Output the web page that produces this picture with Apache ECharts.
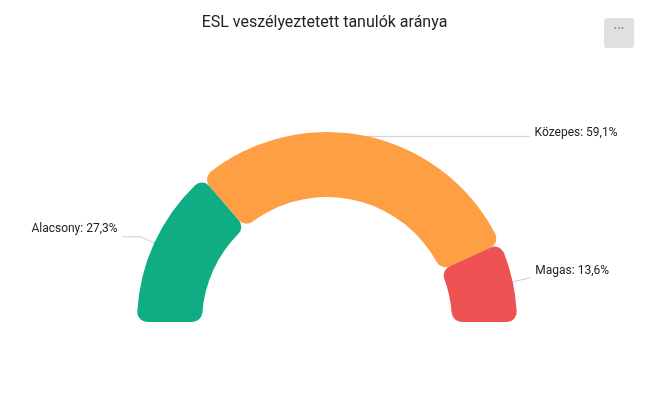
<!DOCTYPE html>
<html>
<head>
<meta charset="utf-8">
<script src="https://cdn.jsdelivr.net/npm/echarts@6/dist/echarts.min.js"></script>
<style>
html,body{margin:0;padding:0;background:#fff;}
#chart{width:649px;height:415px;}
</style>
</head>
<body>
<div id="chart"></div>
<script>
var titleText = 'ESL veszélyeztetett tanulók aránya';
var categories = ['Alacsony', 'Közepes', 'Magas'];
var values = [27.3, 59.1, 13.6];
var colors = ['#10ac84', '#ff9f43', '#ee5253'];

// label line styling per slice (layout only)
var lineLen = [15, 0, 17];
var lineLen2 = [18, 162, 1];
var labelLift = [8, 3, 7];

var chart = echarts.init(document.getElementById('chart'), null, {renderer: 'canvas'});

var data = categories.map(function (c, i) {
  return {
    name: c,
    value: values[i],
    itemStyle: {color: colors[i]},
    labelLine: {length: lineLen[i], length2: lineLen2[i]},
    label: {offset: [0, -labelLift[i]]}
  };
});

chart.setOption({
  animation: false,
  title: {
    text: titleText,
    left: 'center',
    top: 10,
    textStyle: {fontFamily: 'Roboto', fontSize: 16, fontWeight: 'normal', color: '#222'}
  },
  graphic: [{
    type: 'group',
    left: 604,
    top: 18,
    children: [
      {type: 'rect', shape: {x: 0, y: 0, width: 30, height: 30, r: 3}, style: {fill: '#e0e0e0'}},
      {type: 'text', x: 15, y: 12, style: {text: '···', fill: '#888', font: 'bold 12px Roboto', align: 'center', verticalAlign: 'middle'}}
    ]
  }],
  series: [{
    type: 'pie',
    center: [327, 322],
    radius: [125, 190],
    startAngle: 180,
    endAngle: 0,
    clockwise: true,
    avoidLabelOverlap: false,
    itemStyle: {borderRadius: 10},
    label: {
      show: true,
      fontFamily: 'Roboto',
      fontSize: 12,
      color: '#222',
      distanceToLabelLine: 5,
      formatter: function (p) {
        return p.name + ': ' + p.value.toFixed(1).replace('.', ',') + '%';
      }
    },
    labelLine: {show: true, lineStyle: {color: '#ccc', width: 1}},
    emphasis: {disabled: true},
    data: data
  }]
});
</script>
</body>
</html>
